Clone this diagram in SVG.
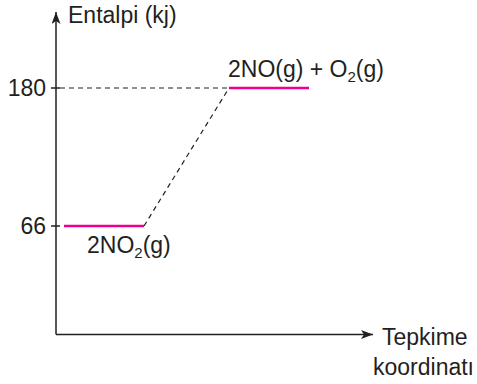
<svg xmlns="http://www.w3.org/2000/svg" width="477" height="384" viewBox="0 0 477 384">
<style>
text{font-family:"Liberation Sans",Arial,sans-serif;font-size:23px;fill:#231f20}
.ax{stroke:#231f20;stroke-width:1.5;fill:none}
.dash{stroke:#231f20;stroke-width:1.2;stroke-dasharray:5,4;fill:none}
.lvl{stroke:#ec008c;stroke-width:2.4}
</style>
<defs>
<marker id="ah" markerWidth="13" markerHeight="9" refX="12" refY="4.5" orient="auto" markerUnits="userSpaceOnUse">
<path d="M0,0 L12,4.5 L0,9 L3,4.5 Z" fill="#231f20"/>
</marker>
</defs>
<rect width="477" height="384" fill="#fff"/>
<g id="axes">
<path class="ax" d="M56,334.5 V12" marker-end="url(#ah)"/>
<path class="ax" d="M56,334.5 H373" marker-end="url(#ah)"/>
<path class="ax" d="M51,88 H60 M51,226 H60"/>
<text x="68" y="23">Entalpi (kj)</text>
<text x="382" y="345">Tepkime</text>
<text x="373" y="375">koordinatı</text>
<text x="46" y="96" text-anchor="end">180</text>
<text x="46" y="234" text-anchor="end">66</text>
</g>
<g id="connectors">
<path class="dash" d="M60,88 H229"/>
<path class="dash" d="M144,226 L229,88"/>
</g>
<g id="products">
<line class="lvl" x1="229" y1="88" x2="309" y2="88"/>
<text x="228" y="77">2NO(g) + O<tspan font-size="15" dy="5">2</tspan><tspan dy="-5">(g)</tspan></text>
</g>
<g id="reactants">
<line class="lvl" x1="64" y1="226" x2="144" y2="226"/>
<text x="87" y="253">2NO<tspan font-size="15" dy="5">2</tspan><tspan dy="-5">(g)</tspan></text>
</g>
</svg>
